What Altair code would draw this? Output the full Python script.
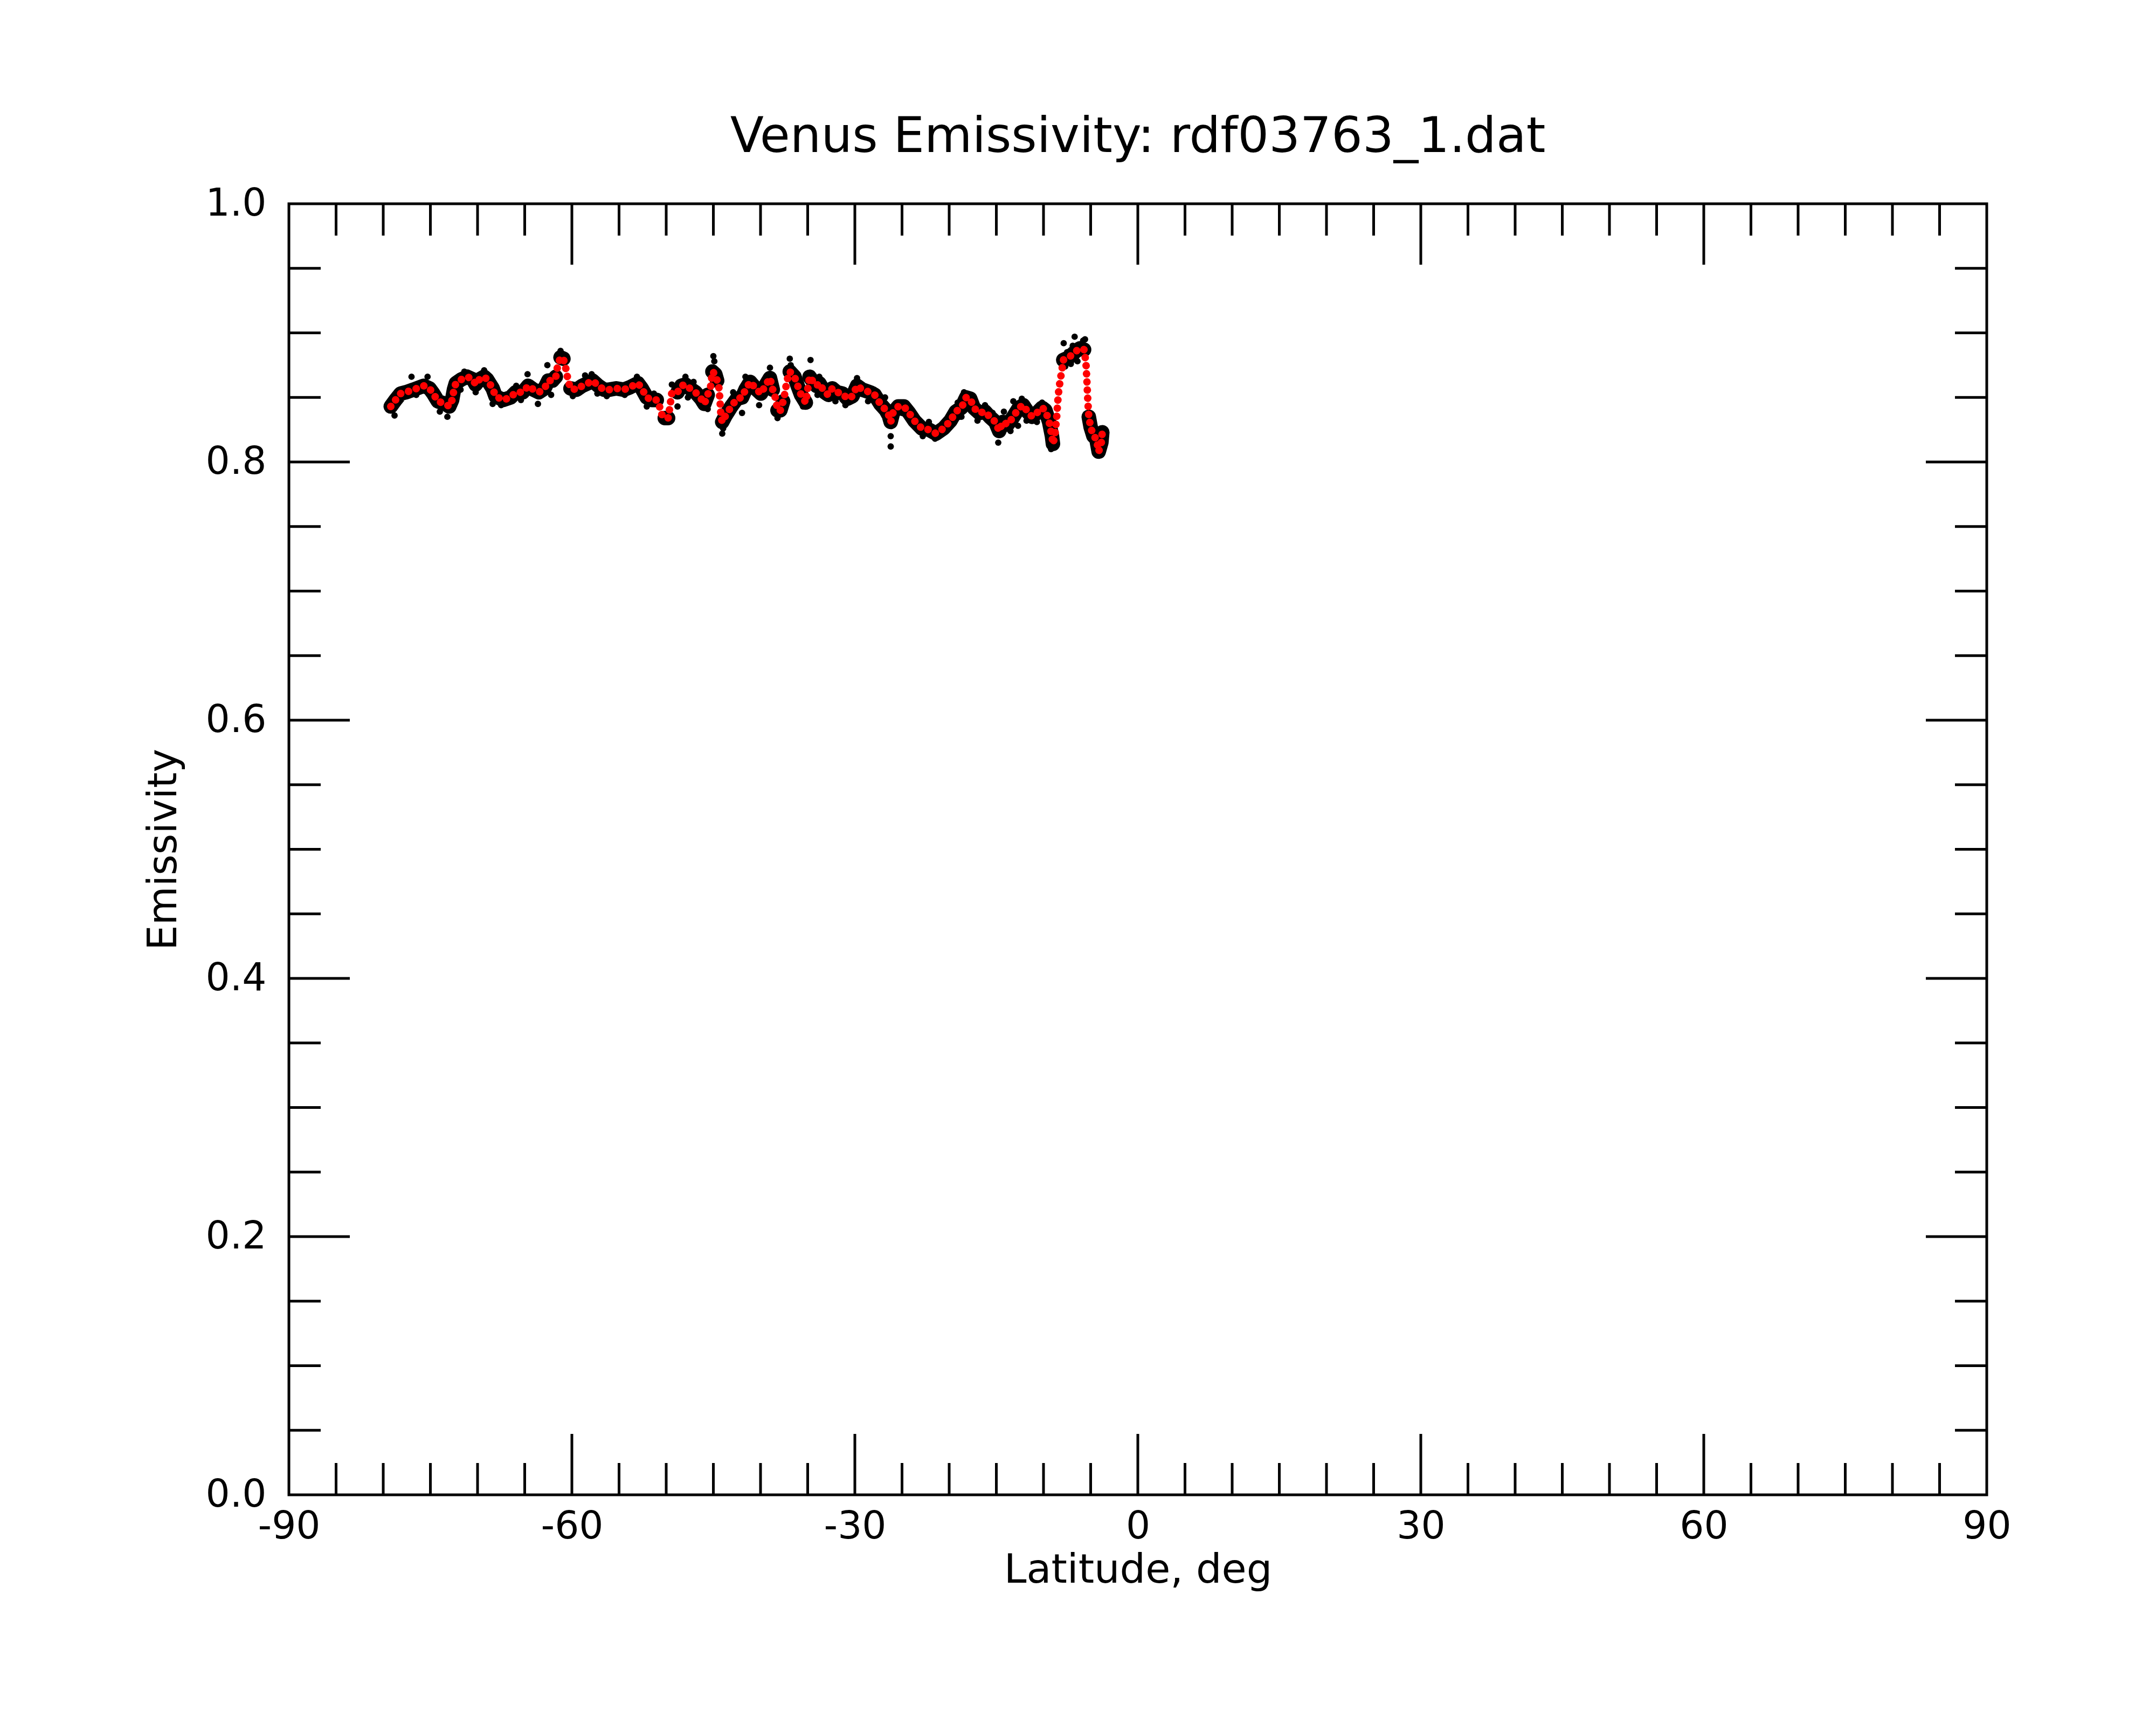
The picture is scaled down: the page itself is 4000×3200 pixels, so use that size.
import altair as alt
import pandas as pd

# ---------------- data ----------------
# smoothed emissivity (red)
red_lat = [-79.2, -78.7, -78.15, -77.6, -76.8, -75.7, -75.1, -74.7, -74.2, -73.4,
           -73.0, -72.7, -72.5, -72.3, -71.7, -71.1, -70.5, -70.2, -69.8, -69.3,
           -69.0, -68.4, -68.1, -67.3, -66.5, -65.96, -65.2, -64.63, -64.06, -63.5,
           -62.9, -62.5, -62.06, -61.7, -61.5, -61.2, -60.9, -60.63, -60.4, -60.15,
           -59.5, -58.9, -58.3, -57.8, -57.2, -56.6, -56.06, -55.3, -54.5, -53.8,
           -53.0, -52.6, -52.06, -51.5, -51.0, -50.7, -50.6, -50.15, -49.8, -49.6,
           -49.4, -48.8, -48.4, -47.96, -47.5, -46.9, -46.3, -45.96, -45.6, -45.3,
           -45.1, -44.8, -44.6, -44.4, -44.3, -44.2, -44.06, -43.7, -43.1, -42.5,
           -41.96, -41.6, -41.1, -40.4, -39.96, -39.5, -39.0, -38.7, -38.4, -38.2,
           -37.9, -37.6, -37.4, -37.2, -36.9, -36.4, -36.06, -35.7, -35.2, -35.0,
           -34.8, -34.5, -34.06, -33.77, -33.2, -32.8, -32.4, -31.9, -31.3, -30.8,
           -30.25, -29.77, -29.2, -28.4, -27.9, -27.3, -26.7, -26.4, -26.2, -25.96,
           -25.4, -24.8, -24.25, -23.7, -22.9, -22.15, -21.4, -20.6, -19.86, -19.3,
           -18.7, -18.2, -17.77, -17.4, -16.8, -16.2, -15.7, -15.1, -14.7, -14.3,
           -13.8, -13.2, -12.6, -12.15, -11.7, -11.2, -10.7, -10.15, -9.8, -9.4,
           -9.1, -9.0, -8.8, -8.6, -8.5, -8.4, -8.24, -8.05, -7.9, -7.3,
           -6.7, -6.15, -5.7, -5.5, -5.4, -5.3, -5.2, -5.0, -4.7, -4.4,
           -4.15, -3.87, -3.77]
red_val = [0.843, 0.848, 0.853, 0.854, 0.856, 0.859, 0.857, 0.853, 0.847, 0.845,
           0.843, 0.848, 0.856, 0.861, 0.864, 0.866, 0.864, 0.860, 0.864, 0.866,
           0.864, 0.857, 0.851, 0.848, 0.850, 0.854, 0.854, 0.859, 0.856, 0.854,
           0.857, 0.863, 0.863, 0.866, 0.875, 0.881, 0.880, 0.872, 0.863, 0.857,
           0.856, 0.859, 0.861, 0.863, 0.859, 0.856, 0.856, 0.857, 0.856, 0.858,
           0.861, 0.857, 0.850, 0.848, 0.848, 0.843, 0.838, 0.834, 0.834, 0.843,
           0.854, 0.854, 0.859, 0.860, 0.857, 0.854, 0.849, 0.845, 0.852, 0.858,
           0.870, 0.868, 0.863, 0.857, 0.848, 0.836, 0.831, 0.836, 0.843, 0.849,
           0.850, 0.856, 0.862, 0.856, 0.853, 0.859, 0.865, 0.856, 0.849, 0.840,
           0.840, 0.847, 0.854, 0.863, 0.870, 0.866, 0.859, 0.852, 0.846, 0.856,
           0.866, 0.863, 0.859, 0.861, 0.854, 0.852, 0.857, 0.854, 0.853, 0.849,
           0.851, 0.859, 0.856, 0.854, 0.852, 0.845, 0.840, 0.836, 0.831, 0.838,
           0.843, 0.843, 0.838, 0.832, 0.826, 0.825, 0.822, 0.826, 0.832, 0.839,
           0.842, 0.850, 0.849, 0.842, 0.838, 0.839, 0.835, 0.831, 0.824, 0.831,
           0.829, 0.835, 0.842, 0.844, 0.839, 0.835, 0.838, 0.842, 0.840, 0.831,
           0.820, 0.814, 0.820, 0.835, 0.846, 0.854, 0.863, 0.871, 0.879, 0.881,
           0.885, 0.888, 0.887, 0.877, 0.863, 0.847, 0.835, 0.827, 0.820, 0.818,
           0.808, 0.815, 0.823]

# raw measurements standing out of the band (black)
raw_lat = [-78.8, -79.0, -77.0, -75.3, -76.5, -74.0, -73.2, -71.4, -71.8, -70.2,
           -69.3, -68.4, -67.5, -65.9, -65.4, -64.7, -63.6, -62.6, -62.2, -61.2,
           -61.1, -59.9, -58.6, -57.9, -57.3, -56.3, -54.4, -53.1, -52.06, -51.3,
           -50.15, -49.4, -48.8, -47.96, -47.7, -47.1, -46.5, -45.6, -45.0, -44.9,
           -44.06, -43.96, -42.9, -41.96, -41.6, -40.15, -39.0, -38.2, -37.7, -36.9,
           -36.8, -35.5, -34.7, -33.96, -33.77, -32.06, -31.0, -29.77, -28.6, -27.96,
           -26.8, -27.3, -26.2, -26.2, -25.5, -25.0, -23.96, -22.15, -22.8, -21.5,
           -19.1, -18.9, -18.43, -18.7, -17.0, -16.2, -15.4, -14.8, -14.2, -13.5,
           -13.2, -12.3, -12.7, -11.8, -10.7, -10.15, -9.2, -7.86, -7.5, -7.1,
           -6.7, -6.4, -5.8, -5.6, -7.7, -6.9, -6.0, -6.5, -4.8, -4.7,
           -4.4]
raw_val = [0.836, 0.850, 0.866, 0.866, 0.852, 0.839, 0.835, 0.870, 0.856, 0.854,
           0.871, 0.845, 0.844, 0.859, 0.848, 0.868, 0.845, 0.875, 0.852, 0.886,
           0.884, 0.851, 0.867, 0.868, 0.853, 0.851, 0.852, 0.866, 0.843, 0.853,
           0.831, 0.860, 0.843, 0.866, 0.850, 0.862, 0.848, 0.841, 0.882, 0.878,
           0.822, 0.826, 0.854, 0.838, 0.866, 0.844, 0.873, 0.834, 0.845, 0.880,
           0.875, 0.843, 0.879, 0.852, 0.866, 0.847, 0.844, 0.865, 0.847, 0.856,
           0.850, 0.841, 0.820, 0.812, 0.846, 0.838, 0.833, 0.831, 0.820, 0.818,
           0.846, 0.835, 0.854, 0.835, 0.832, 0.844, 0.838, 0.815, 0.839, 0.824,
           0.847, 0.849, 0.828, 0.832, 0.831, 0.846, 0.810, 0.892, 0.885, 0.876,
           0.897, 0.878, 0.894, 0.895, 0.874, 0.890, 0.891, 0.882, 0.835, 0.813,
           0.821]

# steep stretches where only the smoothed dots show (no raw band)
band_gaps = [(-61.65, -61.35), (-60.75, -60.25), (-50.75, -50.3), (-49.7, -49.35),
             (-45.55, -45.15), (-44.45, -44.1), (-38.5, -38.25), (-37.5, -37.0),
             (-35.15, -34.85), (-8.85, -7.95), (-5.6, -5.25)]

x_major = [-60, -30, 0, 30, 60]
x_minor = [v for v in range(-85, 90, 5) if v % 30 != 0]
y_major = [0.2, 0.4, 0.6, 0.8]
y_minor = [round(0.05 * i, 2) for i in range(1, 20) if i % 4 != 0]
x_labels = [-90, -60, -30, 0, 30, 60, 90]
y_labels = [0.0, 0.2, 0.4, 0.6, 0.8, 1.0]

TITLE = "Venus Emissivity: rdf03763_1.dat"
X_TITLE = "Latitude, deg"
Y_TITLE = "Emissivity"

# ---------------- build tables ----------------
red_df = pd.DataFrame({"lat": red_lat, "emis": red_val})
raw_df = pd.DataFrame({"lat": raw_lat, "emis": raw_val})

band_rows = []
seg = 0
broken = False
for la, va in zip(red_lat, red_val):
    if any(a <= la <= b for a, b in band_gaps):
        if not broken:
            seg += 1
            broken = True
        continue
    broken = False
    band_rows.append({"lat": la, "emis": va, "seg": seg})
band_df = pd.DataFrame(band_rows)

W, H = 3150, 2395
FONT = "DejaVu Sans"
MAJ, MIN = 113, 59
TW = 5

xscale = alt.Scale(domain=[-90, 90], nice=False, zero=False)
yscale = alt.Scale(domain=[0, 1], nice=False, zero=False)

xaxis = alt.Axis(values=x_labels, labelExpr="'' + datum.value", ticks=False, tickSize=0,
                 domain=False, grid=False, labelFontSize=71, labelFont=FONT,
                 labelColor="black", labelPadding=80, labelBaseline="alphabetic",
                 labelFlush=False, labelOverlap=False, labelBound=False,
                 titleFontSize=75, titleFont=FONT, titleFontWeight="normal",
                 titleColor="black", titleX=W / 2, titleY=162, titleAlign="center",
                 titleBaseline="alphabetic", titleAngle=0)
yaxis = alt.Axis(values=y_labels, format=".1f", ticks=False, tickSize=0,
                 domain=False, grid=False, labelFontSize=71, labelFont=FONT,
                 labelColor="black", labelPadding=42, labelBaseline="middle",
                 labelFlush=False, labelOverlap=False, labelBound=False,
                 titleFontSize=74, titleFont=FONT, titleFontWeight="normal",
                 titleColor="black", titleX=-210, titleY=H / 2, titleAlign="center",
                 titleBaseline="alphabetic", titleAngle=270)


def X():
    return alt.X("lat:Q", scale=xscale, axis=xaxis, title=X_TITLE)


def Y():
    return alt.Y("emis:Q", scale=yscale, axis=yaxis, title=Y_TITLE)


band = alt.Chart(band_df).mark_line(color="black", strokeWidth=27, strokeCap="round",
                                    strokeJoin="round").encode(x=X(), y=Y(), detail="seg:N")
raw = alt.Chart(raw_df).mark_circle(color="black", size=140, opacity=1).encode(x=X(), y=Y())
red = alt.Chart(red_df).mark_line(color="#ff0000", strokeWidth=14, strokeCap="round",
                                  strokeJoin="round", strokeDash=[0.1, 15]).encode(
    x=X(), y=Y(), order="lat:Q")

xmaj_df = pd.DataFrame({"lat": x_major})
xmin_df = pd.DataFrame({"lat": x_minor})
ymaj_df = pd.DataFrame({"emis": y_major})
ymin_df = pd.DataFrame({"emis": y_minor})

tick_layers = []
for df, ln in [(xmaj_df, MAJ), (xmin_df, MIN)]:
    tick_layers.append(alt.Chart(df).mark_rule(color="black", strokeWidth=TW).encode(
        x=X(), y=alt.value(H), y2=alt.value(H - ln)))
    tick_layers.append(alt.Chart(df).mark_rule(color="black", strokeWidth=TW).encode(
        x=X(), y=alt.value(0), y2=alt.value(ln)))
for df, ln in [(ymaj_df, MAJ), (ymin_df, MIN)]:
    tick_layers.append(alt.Chart(df).mark_rule(color="black", strokeWidth=TW).encode(
        y=Y(), x=alt.value(0), x2=alt.value(ln)))
    tick_layers.append(alt.Chart(df).mark_rule(color="black", strokeWidth=TW).encode(
        y=Y(), x=alt.value(W), x2=alt.value(W - ln)))

title_df = pd.DataFrame({"t": [TITLE]})
title = alt.Chart(title_df).mark_text(font=FONT, fontSize=91, color="black",
                                      align="center", baseline="alphabetic").encode(
    text="t:N", x=alt.value(W / 2), y=alt.value(-96))

chart = alt.layer(band, raw, red, *tick_layers, title).properties(
    width=W, height=H,
    autosize=alt.AutoSizeParams(type="none"),
    padding={"left": 528, "top": 370, "right": 300, "bottom": 400},
    background="white",
).configure(font=FONT).configure_view(stroke="black", strokeWidth=5)

chart.save("out.html", embed_options={"renderer": "svg", "actions": False})
